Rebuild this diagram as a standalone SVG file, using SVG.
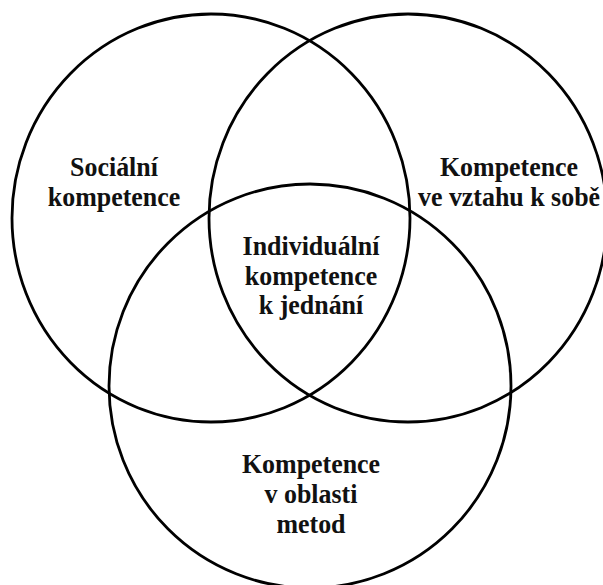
<svg xmlns="http://www.w3.org/2000/svg" width="603" height="585" viewBox="0 0 603 585">
<style>
.c{fill:none;stroke:#000;stroke-width:2.8}
.t{font-family:"Liberation Serif","Times New Roman",serif;font-weight:bold;font-size:27px;fill:#111;text-anchor:middle}
</style>
<rect width="603" height="585" fill="#fff"/>
<g id="social">
<ellipse class="c" cx="211" cy="218" rx="199" ry="204"/>
<g transform="translate(114,0) scale(0.96,1)">
<text class="t" x="0" y="176">Sociální</text>
<text class="t" x="0" y="206">kompetence</text>
</g>
</g>
<g id="self">
<ellipse class="c" cx="408" cy="218" rx="199" ry="204"/>
<g transform="translate(509,0) scale(0.96,1)">
<text class="t" x="0" y="176">Kompetence</text>
<text class="t" x="0" y="206">ve vztahu k sobě</text>
</g>
</g>
<g id="methods">
<ellipse class="c" cx="310" cy="386" rx="201" ry="202"/>
<g transform="translate(311,0) scale(0.96,1)">
<text class="t" x="0" y="473">Kompetence</text>
<text class="t" x="0" y="503">v oblasti</text>
<text class="t" x="0" y="533">metod</text>
</g>
</g>
<g id="individual">
<g transform="translate(311,0) scale(0.96,1)">
<text class="t" x="0" y="255">Individuální</text>
<text class="t" x="0" y="285">kompetence</text>
<text class="t" x="0" y="314">k jednání</text>
</g>
</g>
</svg>
